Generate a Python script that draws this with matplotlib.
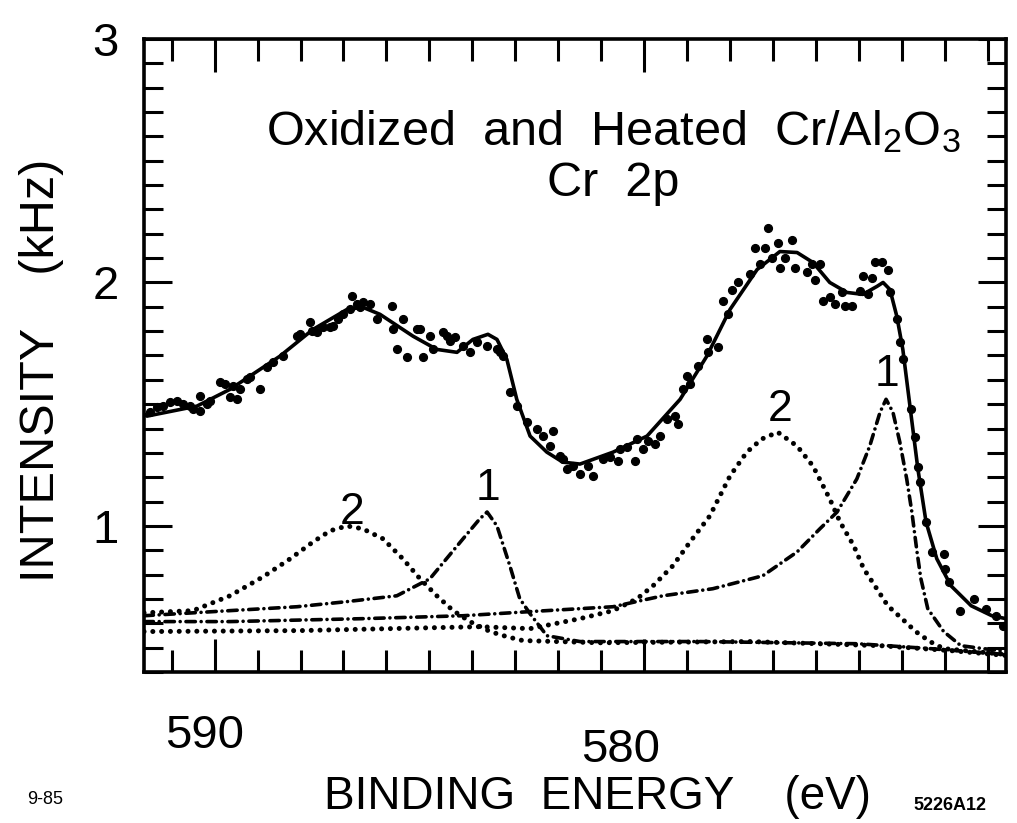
import matplotlib.pyplot as plt
from matplotlib.ticker import MultipleLocator, FixedLocator
from matplotlib.transforms import ScaledTranslation

plt.rcParams['font.family'] = ['Liberation Sans', 'DejaVu Sans']

# measured counts (binding energy in eV, intensity in kHz)
data_x = [591.50, 591.34, 591.20, 591.04, 590.87, 590.73, 590.57, 590.50, 590.34, 590.34,
          590.17, 590.10, 589.87, 589.76, 589.64, 589.48, 589.57, 589.41, 589.24, 589.17,
          588.94, 588.78, 588.64, 588.41, 588.08, 588.01, 587.78, 587.73, 587.62, 587.48,
          587.31, 587.24, 587.13, 587.01, 586.80, 586.85, 586.69, 586.62, 586.55, 586.38,
          586.22, 585.87, 585.85, 585.76, 585.62, 585.52, 585.29, 585.22, 585.15, 584.99,
          584.92, 584.69, 584.59, 584.52, 584.41, 584.22, 584.06, 583.90, 583.66, 583.43,
          583.36, 583.29, 583.13, 582.97, 582.73,
          582.50, 582.36, 582.13, 582.20, 581.97, 581.90, 581.80, 581.66, 581.50, 581.31,
          581.20, 580.97, 580.80, 580.62, 580.57, 580.41, 580.22, 580.17, 580.04, 579.92,
          579.76, 579.64, 579.48, 579.29, 579.22, 579.11, 578.94, 579.01, 578.76, 578.55,
          578.52, 578.29, 578.17, 578.06, 577.97, 577.83, 577.55, 577.43, 577.31, 577.20,
          577.13, 577.04, 576.90, 576.85, 576.73, 576.57, 576.50, 576.22, 576.11, 576.04,
          575.92, 575.85, 575.69, 575.57, 575.41, 575.34, 575.17, 574.99, 574.92, 574.80,
          574.71, 574.64, 574.48, 574.34, 574.29, 574.13, 574.06, 573.99, 573.80, 573.71,
          573.64, 573.59, 573.45, 573.31, 573.04, 573.01, 572.92, 572.66, 572.34, 572.06,
          571.83, 571.66]
data_y = [1.467, 1.488, 1.492, 1.508, 1.512, 1.500, 1.492, 1.480, 1.533, 1.471,
          1.500, 1.512, 1.590, 1.582, 1.529, 1.520, 1.574, 1.561, 1.602, 1.611,
          1.561, 1.652, 1.672, 1.697, 1.779, 1.787, 1.836, 1.799, 1.795, 1.816,
          1.816, 1.820, 1.848, 1.869, 1.943, 1.889, 1.910, 1.898, 1.918, 1.910,
          1.848, 1.902, 1.807, 1.725, 1.848, 1.693, 1.807, 1.807, 1.693, 1.779,
          1.725, 1.795, 1.779, 1.758, 1.775, 1.738, 1.713, 1.754, 1.738, 1.725,
          1.713, 1.697, 1.549, 1.492, 1.426,
          1.398, 1.369, 1.389, 1.328, 1.287, 1.275, 1.234, 1.246, 1.213, 1.246,
          1.205, 1.275, 1.283, 1.266, 1.316, 1.324, 1.266, 1.357, 1.316, 1.348,
          1.336, 1.369, 1.439, 1.451, 1.418, 1.561, 1.582, 1.615, 1.656, 1.766,
          1.713, 1.734, 1.922, 1.869, 1.971, 2.000, 2.033, 2.143, 2.074, 2.143,
          2.225, 2.102, 2.164, 2.061, 2.102, 2.176, 2.061, 2.045, 2.074, 2.012,
          2.074, 1.922, 1.939, 1.910, 1.959, 1.902, 1.902, 1.963, 2.025, 1.951,
          2.020, 2.082, 2.082, 2.053, 1.959, 1.848, 1.754, 1.684, 1.480, 1.365,
          1.242, 1.180, 1.016, 0.893, 0.885, 0.824, 0.770, 0.652, 0.701, 0.660,
          0.631, 0.590]

# total fit
fit_x = [591.64, 591.57, 590.41, 589.64, 588.48, 587.71, 586.92, 586.55, 586.15, 585.38,
         584.83, 584.36, 583.99, 583.64, 583.43, 583.20, 582.97, 582.66, 582.27, 581.90,
         581.50, 580.73, 579.94, 579.17, 578.55, 578.01, 577.38, 576.85, 576.45, 576.08,
         575.69, 575.29, 574.92, 574.59, 574.45, 574.29, 574.13, 573.99, 573.83, 573.64,
         573.45, 573.20, 572.87, 572.40, 571.92, 571.59]
fit_y = [1.460, 1.451, 1.492, 1.561, 1.697, 1.807, 1.889, 1.898, 1.869, 1.779,
         1.725, 1.713, 1.766, 1.787, 1.766, 1.684, 1.520, 1.369, 1.303, 1.262,
         1.254, 1.303, 1.369, 1.520, 1.697, 1.889, 2.053, 2.127, 2.123, 2.082,
         2.000, 1.959, 1.951, 1.984, 2.000, 1.971, 1.861, 1.725, 1.500, 1.234,
         1.016, 0.865, 0.754, 0.672, 0.631, 0.619]

# component 1 (dash-dot) and component 2 (dotted), 2p1/2 and 2p3/2
c1a_x = [591.64, 589.64, 588.08, 586.92, 585.76, 584.99, 584.22, 583.83, 583.66, 583.43,
         583.13, 582.90, 582.66, 582.27, 581.50, 578.71, 575.03, 573.36, 571.60]
c1a_y = [0.631, 0.652, 0.668, 0.689, 0.713, 0.783, 0.947, 1.029, 1.057, 1.000,
         0.836, 0.701, 0.639, 0.549, 0.525, 0.525, 0.516, 0.496, 0.472]
c2a_x = [591.64, 590.50, 589.64, 588.87, 588.24, 587.71, 587.31, 586.92, 586.55, 586.08,
         585.62, 585.22, 584.83, 584.45, 584.06, 583.59, 583.20, 582.83, 581.04, 577.55,
         574.52, 572.90, 571.60]
c2a_y = [0.643, 0.652, 0.713, 0.791, 0.865, 0.934, 0.980, 1.000, 0.988, 0.947,
         0.865, 0.783, 0.713, 0.652, 0.607, 0.566, 0.545, 0.529, 0.520, 0.525,
         0.508, 0.488, 0.468]
c1b_x = [591.64, 589.64, 586.55, 584.22, 582.66, 580.73, 579.57, 578.41, 577.25, 576.45,
         575.92, 575.52, 575.06, 574.76, 574.52, 574.38, 574.22, 574.06, 573.90, 573.78,
         573.66, 573.57, 573.41, 573.04, 572.64, 571.60]
c1b_y = [0.607, 0.607, 0.619, 0.631, 0.648, 0.668, 0.713, 0.742, 0.795, 0.893,
         0.988, 1.057, 1.193, 1.328, 1.467, 1.520, 1.467, 1.344, 1.193, 1.057,
         0.893, 0.783, 0.660, 0.566, 0.508, 0.484]
c2b_x = [591.64, 588.01, 583.83, 582.66, 581.50, 580.73, 580.17, 579.80, 579.34, 578.94,
         578.48, 578.01, 577.62, 577.27, 576.90, 576.45, 576.08, 575.69, 575.45, 575.13,
         574.90, 574.64, 574.34, 574.01, 573.69, 573.36, 573.04, 571.60]
c2b_y = [0.566, 0.570, 0.586, 0.578, 0.619, 0.652, 0.701, 0.754, 0.836, 0.934,
         1.041, 1.205, 1.303, 1.357, 1.385, 1.328, 1.246, 1.111, 1.016, 0.918,
         0.824, 0.754, 0.672, 0.619, 0.566, 0.525, 0.496, 0.472]

peak_labels = ["2", "1", "2", "1"]
peak_label_x = [586.80, 583.64, 576.85, 574.36]
peak_label_y = [1.057, 1.152, 1.480, 1.623]

fig = plt.figure(figsize=(10.17, 8.23), dpi=100)
ax = fig.add_axes([0.1416, 0.1835, 0.8476, 0.7691])

dotted = (0, (0.01, 1.75))
dashdot = (0, (2.6, 1.6, 0.01, 1.6))

ax.plot(c2a_x, c2a_y, color='black', lw=3.6, ls=dotted, dash_capstyle='round')
ax.plot(c2b_x, c2b_y, color='black', lw=3.6, ls=dotted, dash_capstyle='round')
ax.plot(c1a_x, c1a_y, color='black', lw=2.6, ls=dashdot, dash_capstyle='round')
ax.plot(c1b_x, c1b_y, color='black', lw=2.6, ls=dashdot, dash_capstyle='round')
ax.plot(fit_x, fit_y, color='black', lw=2.6)
ax.plot(data_x, data_y, 'o', color='black', ms=5.6)

for lab, lx, ly in zip(peak_labels, peak_label_x, peak_label_y):
    ax.text(lx, ly, lab, fontsize=32, ha='center', va='center')

ax.set_xlim(591.64, 571.59)
ax.set_ylim(0.40, 3.0)

ax.xaxis.set_major_locator(FixedLocator([590, 580]))
ax.xaxis.set_minor_locator(MultipleLocator(1))
ax.yaxis.set_major_locator(FixedLocator([1, 2, 3]))
ax.yaxis.set_minor_locator(MultipleLocator(0.1))
ax.set_xticklabels(["590", "580"])
ax.set_yticklabels(["1", "2", "3"])

ax.tick_params(which='both', direction='in', top=True, right=True, width=2.2, colors='black')
ax.tick_params(axis='x', which='major', length=24, pad=30, labelsize=34)
ax.tick_params(axis='x', which='minor', length=16)
ax.tick_params(axis='y', which='major', length=20, pad=18, labelsize=34)
ax.tick_params(axis='y', which='minor', length=14)
for s in ax.spines.values():
    s.set_linewidth(2.6)

# hand placed labels in the original sit a bit off the ticks
shifts = [(-10, 0), (-24, -14)]
for lab, (dx, dy) in zip(ax.get_xticklabels(), shifts):
    lab.set_transform(lab.get_transform() + ScaledTranslation(dx / 100, dy / 100, fig.dpi_scale_trans))

ax.text(0.544, 0.854, "Oxidized  and  Heated  Cr/Al$\\mathregular{_2}$O$\\mathregular{_3}$",
        transform=ax.transAxes, fontsize=35, ha='center', va='center')
ax.text(0.544, 0.772, "Cr  2p", transform=ax.transAxes, fontsize=35, ha='center', va='center')

fig.text(597 / 1017, 1 - 797 / 823, "BINDING  ENERGY    (eV)", fontsize=33, ha='center', va='center')
fig.text(42 / 1017, 1 - 370 / 823, "INTENSITY    (kHz)", fontsize=35, ha='center', va='center',
         rotation=90)
fig.text(45 / 1017, 1 - 800 / 823, "9-85", fontsize=13, ha='center', va='center')
fig.text(950 / 1017, 1 - 805 / 823, "5226A12", fontsize=13, ha='center', va='center',
         fontweight='bold')

fig.savefig("out.png", dpi=100)
